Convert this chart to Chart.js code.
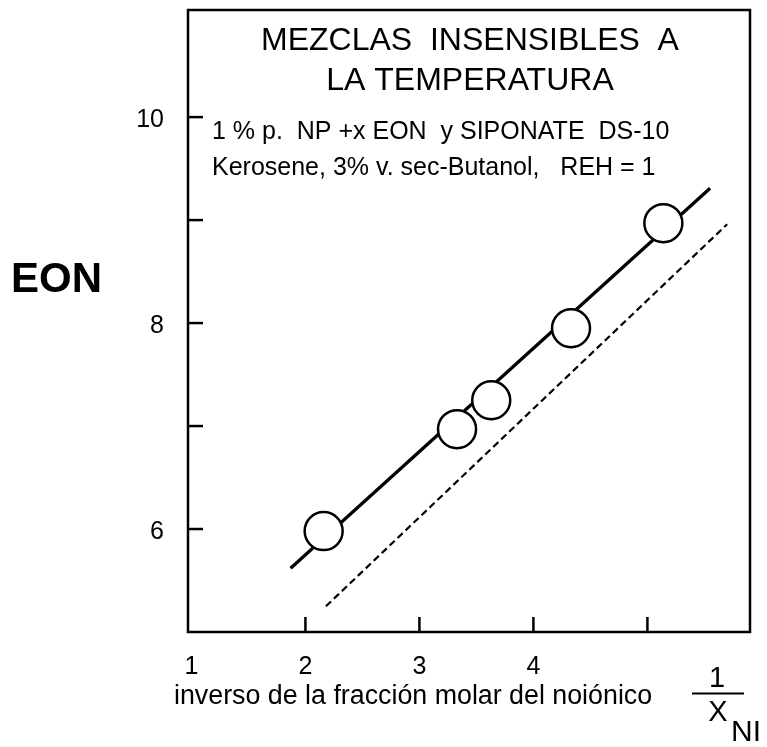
<!DOCTYPE html>
<html>
<head>
<meta charset="utf-8">
<script src="https://cdn.jsdelivr.net/npm/chart.js@4.4.1/dist/chart.umd.min.js"></script>
<style>
  html, body { margin: 0; padding: 0; background: #ffffff; }
  #wrap { width: 767px; height: 747px; }
</style>
</head>
<body>
<div id="wrap"><canvas id="c" width="767" height="747"></canvas></div>
<script>
// ---- data ----
const pointX = [2.16, 3.33, 3.63, 4.33, 5.14];
const pointY = [5.98, 6.97, 7.25, 7.95, 8.97];
const fitX = [1.87, 5.55];
const fitY = [5.62, 9.31];
const dashX = [2.18, 5.70];
const dashY = [5.25, 8.96];
const xTicks = [1, 2, 3, 4, 5];
const xTickLabels = ['1', '2', '3', '4', ''];
const yTicks = [6, 7, 8, 9, 10];
const yTickLabels = ['6', '', '8', '', '10'];
const titleLines = ['MEZCLAS  INSENSIBLES  A', 'LA TEMPERATURA'];
const noteLines = ['1 % p.  NP +x EON  y SIPONATE  DS-10', 'Kerosene, 3% v. sec-Butanol,   REH = 1'];
const yTitle = 'EON';
const xTitle = 'inverso de la fracción molar del noiónico';
const fracTop = '1', fracBottom = 'X', fracSub = 'NI';

const FONT = '"Liberation Sans", Arial, Helvetica, sans-serif';
const toXY = (xs, ys) => xs.map((x, i) => ({ x: x, y: ys[i] }));

const decor = {
  id: 'decor',
  afterDatasetsDraw(chart) {
    const ctx = chart.ctx, a = chart.chartArea;
    const xs = chart.scales.x, ys = chart.scales.y;
    ctx.save();
    ctx.strokeStyle = '#000';
    ctx.lineCap = 'butt';
    // frame
    ctx.lineWidth = 2.5;
    ctx.strokeRect(a.left, a.top, a.right - a.left, a.bottom - a.top);
    // inward tick marks
    xTicks.forEach(v => {
      const px = xs.getPixelForValue(v);
      if (px <= a.left + 5) return;
      ctx.beginPath(); ctx.moveTo(px, a.bottom); ctx.lineTo(px, a.bottom - 15); ctx.stroke();
    });
    yTicks.forEach(v => {
      const py = ys.getPixelForValue(v);
      ctx.beginPath(); ctx.moveTo(a.left, py); ctx.lineTo(a.left + 15, py); ctx.stroke();
    });
    // texts
    ctx.fillStyle = '#000';
    ctx.textBaseline = 'alphabetic';
    ctx.font = '32px ' + FONT;
    ctx.textAlign = 'center';
    ctx.fillText(titleLines[0], 470, 50);
    ctx.fillText(titleLines[1], 470, 90);
    ctx.font = '25px ' + FONT;
    ctx.textAlign = 'left';
    ctx.fillText(noteLines[0], 212, 139);
    ctx.fillText(noteLines[1], 212, 175);
    ctx.font = 'bold 42px ' + FONT;
    ctx.fillText(yTitle, 11, 292);
    ctx.font = '26.8px ' + FONT;
    ctx.fillText(xTitle, 174, 704);
    // fraction 1 / X_NI
    ctx.font = '29px ' + FONT;
    ctx.textAlign = 'center';
    ctx.fillText(fracTop, 717, 687);
    ctx.fillText(fracBottom, 718, 721);
    ctx.textAlign = 'left';
    ctx.font = '30px ' + FONT;
    ctx.fillText(fracSub, 731, 741);
    ctx.lineWidth = 2;
    ctx.beginPath(); ctx.moveTo(692, 693.5); ctx.lineTo(744, 693.5); ctx.stroke();
    ctx.restore();
  }
};

new Chart(document.getElementById('c'), {
  type: 'scatter',
  data: {
    datasets: [
      {
        label: 'datos',
        data: toXY(pointX, pointY),
        order: 0,
        showLine: false,
        pointRadius: 19,
        pointHoverRadius: 19,
        pointBackgroundColor: '#ffffff',
        pointBorderColor: '#000000',
        pointBorderWidth: 2.5
      },
      {
        label: 'ajuste',
        data: toXY(fitX, fitY),
        order: 1,
        showLine: true,
        borderColor: '#000000',
        borderWidth: 3.3,
        pointRadius: 0,
        fill: false
      },
      {
        label: 'referencia',
        data: toXY(dashX, dashY),
        order: 2,
        showLine: true,
        borderColor: '#000000',
        borderWidth: 2.2,
        borderDash: [7, 4],
        pointRadius: 0,
        fill: false
      }
    ]
  },
  options: {
    responsive: false,
    animation: false,
    layout: { autoPadding: false, padding: { top: 10, right: 17, left: 0, bottom: 0 } },
    plugins: { legend: { display: false }, tooltip: { enabled: false } },
    scales: {
      x: {
        type: 'linear', min: 0.97, max: 5.9,
        grid: { display: false, drawTicks: false },
        border: { display: false },
        afterBuildTicks: s => { s.ticks = xTicks.map(v => ({ value: v })); },
        afterFit: s => { s.height = 115; s.paddingLeft = 0; s.paddingRight = 0; },
        ticks: {
          color: '#000', padding: 20, maxRotation: 0, autoSkip: false,
          font: { family: FONT, size: 25 },
          callback: (v) => { const i = xTicks.indexOf(v); return i >= 0 ? xTickLabels[i] : ''; }
        }
      },
      y: {
        type: 'linear', min: 5, max: 11.04,
        grid: { display: false, drawTicks: false },
        border: { display: false },
        afterBuildTicks: s => { s.ticks = yTicks.map(v => ({ value: v })); },
        afterFit: s => { s.width = 188; s.paddingTop = 0; s.paddingBottom = 0; },
        ticks: {
          color: '#000', padding: 24, labelOffset: 3, autoSkip: false,
          font: { family: FONT, size: 25 },
          callback: (v) => { const i = yTicks.indexOf(v); return i >= 0 ? yTickLabels[i] : ''; }
        }
      }
    }
  },
  plugins: [decor]
});
</script>
</body>
</html>
